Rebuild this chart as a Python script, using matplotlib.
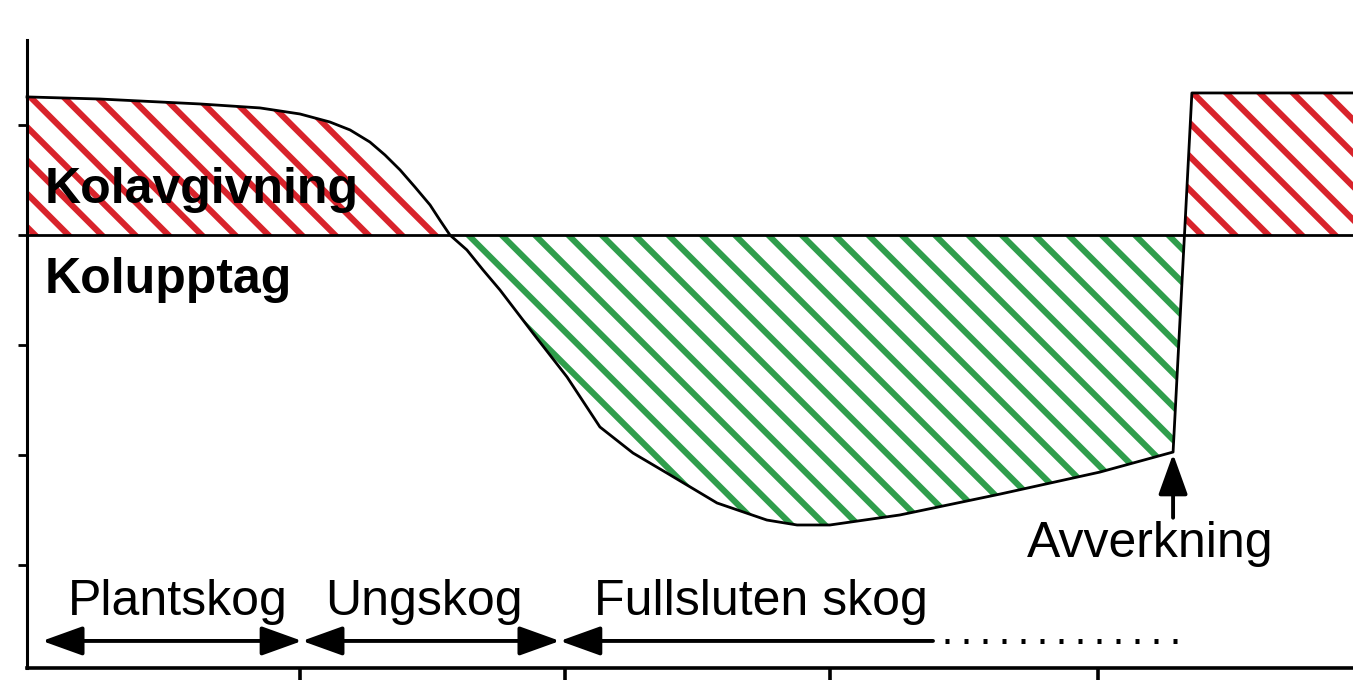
import matplotlib.pyplot as plt
import numpy as np

plt.rcParams['font.family'] = ['Liberation Sans', 'DejaVu Sans']
plt.rcParams['hatch.linewidth'] = 2.2

# kurvan: tid (x) och kolflöde (y), positivt = avgivning, negativt = upptag
tid = [0.0, 2.75, 6.53, 8.79, 10.30, 11.43, 12.19, 12.94, 13.51, 14.08, 14.64,
       15.21, 15.58, 15.96, 16.60, 17.21, 17.85, 19.09, 20.38, 21.62, 22.87, 24.15,
       26.04, 27.92, 29.06, 30.30, 32.94, 36.72, 40.49, 43.25, 43.68, 43.96, 50.04]
flode = [1.255, 1.236, 1.191, 1.155, 1.100, 1.027, 0.955, 0.845, 0.727, 0.591, 0.436,
         0.273, 0.136, 0.0, -0.136, -0.318, -0.50, -0.891, -1.291, -1.745, -1.982, -2.164,
         -2.436, -2.591, -2.636, -2.636, -2.545, -2.355, -2.155, -1.973, 0.0, 1.291, 1.291]

# skogsfaser langs tidsaxeln
fas_namn = ['Plantskog', 'Ungskog', 'Fullsluten skog']
fas_text_x = [1.55, 11.25, 21.4]
fas_grans = [0.57, 10.38, 20.11, 34.19]
fas_slut_prickar = 43.96
avverkning_x = 43.25

x_ticks = [10.3, 20.3, 30.3, 40.4]
y_ticks = [1, 0, -1, -2, -3]

rod = '#d8232b'
gron = '#2f9e4c'

fig = plt.figure(figsize=(6.765, 3.4), dpi=200)
ax = fig.add_axes([0, 0, 1, 1])
ax.set_xlim(-1.019, 50.04)
ax.set_ylim(-4.045, 2.136)

t = np.array(tid)
f = np.array(flode)
ax.fill_between(t, f, 0, where=f >= 0, interpolate=True, facecolor='none',
                edgecolor=rod, linewidth=0, hatch='\\\\')
ax.fill_between(t, f, 0, where=f <= 0, interpolate=True, facecolor='none',
                edgecolor=gron, linewidth=0, hatch='\\\\')
ax.plot(t, f, color='black', lw=1.0)
ax.axhline(0, color='black', lw=1.0, xmin=0.02)

# axlar
ax.spines['top'].set_visible(False)
ax.spines['right'].set_visible(False)
ax.spines['left'].set_position(('data', 0))
ax.spines['bottom'].set_position(('data', -3.936))
ax.spines['left'].set_bounds(-3.936, 1.77)
ax.spines['bottom'].set_bounds(0, 50.04)
ax.spines['left'].set_linewidth(1.1)
ax.spines['bottom'].set_linewidth(1.3)
ax.set_xticks(x_ticks)
ax.set_yticks(y_ticks)
ax.tick_params(axis='x', direction='out', length=4.3, width=1.3, labelbottom=False)
ax.tick_params(axis='y', direction='out', length=3.2, width=1.0, labelleft=False)

# texter
ax.text(0.68, 0.29, 'Kolavgivning', fontsize=18, fontweight='bold', va='baseline')
ax.text(0.68, -0.53, 'Kolupptag', fontsize=18, fontweight='bold', va='baseline')
for namn, xp in zip(fas_namn, fas_text_x):
    ax.text(xp, -3.45, namn, fontsize=18, va='baseline')
ax.text(37.75, -2.93, 'Avverkning', fontsize=18, va='baseline')

# pilar for faserna
pil_y = -3.69
stil = dict(color='black', lw=1.4, shrinkA=0, shrinkB=0, mutation_scale=10)
ax.annotate('', xy=(fas_grans[0], pil_y), xytext=(fas_grans[1], pil_y),
            arrowprops=dict(arrowstyle='<|-|>,head_length=1.25,head_width=0.45', **stil))
ax.annotate('', xy=(fas_grans[1], pil_y), xytext=(fas_grans[2], pil_y),
            arrowprops=dict(arrowstyle='<|-|>,head_length=1.25,head_width=0.45', **stil))
ax.annotate('', xy=(fas_grans[2], pil_y), xytext=(fas_grans[3], pil_y),
            arrowprops=dict(arrowstyle='-|>,head_length=1.25,head_width=0.45', **stil))
ax.plot([fas_grans[3] + 0.45, fas_slut_prickar], [pil_y, pil_y], color='black',
        lw=1.8, linestyle=(0, (0.8, 3.0)))

# avverkningspil
ax.annotate('', xy=(avverkning_x, -1.99), xytext=(avverkning_x, -2.57),
            arrowprops=dict(arrowstyle='-|>,head_length=1.25,head_width=0.45', **stil))

fig.savefig('out.png', dpi=200)
